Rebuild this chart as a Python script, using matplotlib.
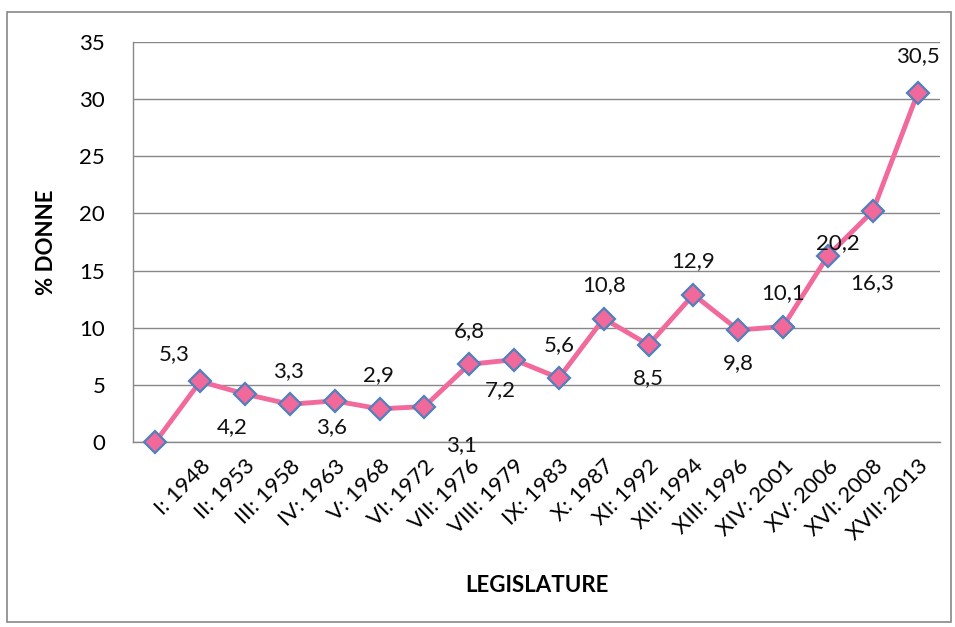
import matplotlib
matplotlib.use('Agg')
import matplotlib.pyplot as plt
from matplotlib.patches import Rectangle

plt.rcParams['font.family'] = ['Lato', 'DejaVu Sans']

# legislature labels (first slot is the empty starting point)
legislature = ['', 'I: 1948', 'II: 1953', 'III: 1958', 'IV: 1963', 'V: 1968',
               'VI: 1972', 'VII: 1976', 'VIII: 1979', 'IX: 1983', 'X: 1987',
               'XI: 1992', 'XII: 1994', 'XIII: 1996', 'XIV: 2001', 'XV: 2006',
               'XVI: 2008', 'XVII: 2013']
donne = [0, 5.3, 4.2, 3.3, 3.6, 2.9, 3.1, 6.8, 7.2, 5.6, 10.8, 8.5, 12.9,
         9.8, 10.1, 16.3, 20.2, 30.5]

# label offsets in points (dx, dy), None = no label
offsets = [None, (-19, 20), (-9, -24), (-1, 24), (-2, -19), (-1, 24),
           (27, -28), (0, 24), (-10, -22), (0, 24), (0, 24), (0, -24),
           (0, 24), (0, -24), (0, 24), (32, -20), (-25, -23), (0, 27)]

fig = plt.figure(figsize=(9.55, 6.27), dpi=100)
fig.patches.append(Rectangle((7 / 955, 1 - 622 / 627), 944 / 955, 610 / 627,
                             transform=fig.transFigure, fill=False,
                             edgecolor='#888888', linewidth=1.2))

ax = fig.add_axes([133 / 955, 1 - 442 / 627, 807 / 955, 400 / 627])
x = list(range(len(donne)))
ax.plot(x, donne, color='#F2699C', linewidth=3.5, marker='D', markersize=11,
        markerfacecolor='#F0699A', markeredgecolor='#4F81BD',
        markeredgewidth=1.6, zorder=3, clip_on=False)

for i, v in enumerate(donne):
    if offsets[i] is None:
        continue
    ax.annotate(f"{v:.1f}".replace('.', ','), (i, v), xytext=offsets[i],
                textcoords='offset points', ha='center', va='center',
                fontsize=16, color='#111111')

ax.set_xlim(-0.5, len(donne) - 0.5)
ax.set_ylim(0, 35)
ax.set_yticks(range(0, 36, 5))
ax.set_xticks(x)
ax.set_xticklabels(legislature, rotation=45, ha='right',
                   rotation_mode='anchor', fontsize=16)
ax.tick_params(axis='y', labelsize=16, length=0, pad=20)
ax.tick_params(axis='x', length=0, pad=10)
ax.grid(axis='y', color='#888888', linewidth=1)
ax.set_axisbelow(True)
for s in ['top', 'right']:
    ax.spines[s].set_visible(False)
for s in ['left', 'bottom']:
    ax.spines[s].set_color('#888888')
    ax.spines[s].set_linewidth(1)

ax.set_ylabel('% DONNE', fontsize=16, fontweight='bold', labelpad=16)
ax.set_xlabel('LEGISLATURE', fontsize=16, fontweight='bold', labelpad=22)

plt.savefig('out.png', dpi=100)
